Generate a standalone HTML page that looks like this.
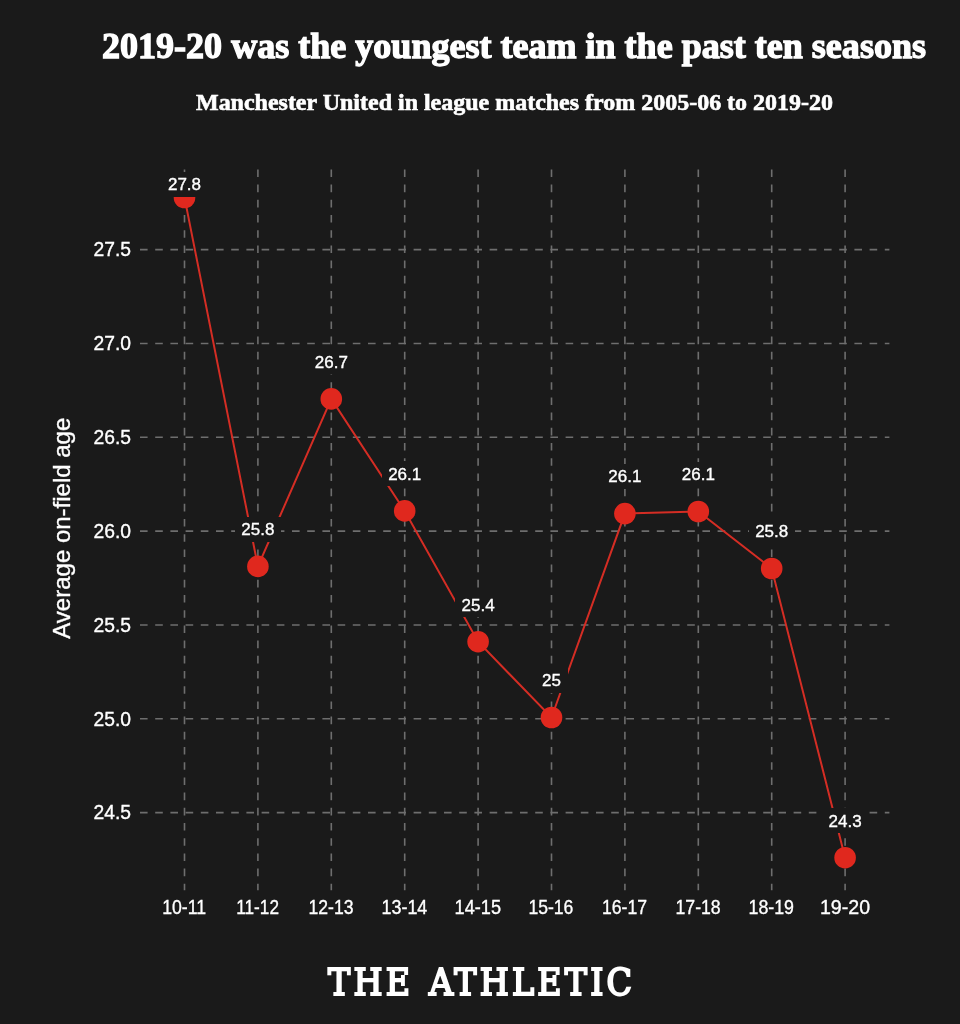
<!DOCTYPE html>
<html><head><meta charset="utf-8"><style>
html,body{margin:0;padding:0;background:#1a1a1a;width:960px;height:1024px;overflow:hidden}
svg{display:block;filter:blur(0.45px)}
text{fill:#fff}
.v,.t,.tx,.yt{stroke:#fff;stroke-width:0.35px}
.v{font:17px "Liberation Sans",sans-serif}
.t{font:19.3px "Liberation Sans",sans-serif}
.tx{font:20px "Liberation Sans",sans-serif}
.yt{font:24px "Liberation Sans",sans-serif}
.h1{font:bold 36.3px "Liberation Serif",serif;stroke:#fff;stroke-width:1.3px}
.h2{font:bold 22.5px "Liberation Serif",serif;stroke:#fff;stroke-width:0.6px}
.logo{font:37px "DejaVu Serif Condensed","DejaVu Serif",serif;stroke:#fff;stroke-width:1.9px;word-spacing:2px}
</style></head><body>
<svg width="960" height="1024" viewBox="0 0 960 1024">
<rect x="0" y="0" width="960" height="1024" fill="#1a1a1a"/>
<g stroke="#6e6e6e" stroke-width="1.6" stroke-dasharray="7.6 7.6" fill="none"><line x1="184.50" y1="169.4" x2="184.50" y2="890.3"/><line x1="257.90" y1="169.4" x2="257.90" y2="890.3"/><line x1="331.30" y1="169.4" x2="331.30" y2="890.3"/><line x1="404.70" y1="169.4" x2="404.70" y2="890.3"/><line x1="478.10" y1="169.4" x2="478.10" y2="890.3"/><line x1="551.50" y1="169.4" x2="551.50" y2="890.3"/><line x1="624.90" y1="169.4" x2="624.90" y2="890.3"/><line x1="698.30" y1="169.4" x2="698.30" y2="890.3"/><line x1="771.70" y1="169.4" x2="771.70" y2="890.3"/><line x1="845.10" y1="169.4" x2="845.10" y2="890.3"/><line x1="140" y1="249.60" x2="889.4" y2="249.60"/><line x1="140" y1="343.44" x2="889.4" y2="343.44"/><line x1="140" y1="437.27" x2="889.4" y2="437.27"/><line x1="140" y1="531.11" x2="889.4" y2="531.11"/><line x1="140" y1="624.94" x2="889.4" y2="624.94"/><line x1="140" y1="718.77" x2="889.4" y2="718.77"/><line x1="140" y1="812.61" x2="889.4" y2="812.61"/></g>
<clipPath id="c"><rect x="0" y="195.6" width="960" height="828.4"/></clipPath>
<g clip-path="url(#c)"><polyline points="184.50,197.50 257.90,566.40 331.30,398.90 404.70,510.90 478.10,641.70 551.50,717.50 624.90,513.60 698.30,511.50 771.70,568.50 845.10,857.70" fill="none" stroke="#d42d24" stroke-width="2"/>
<circle cx="184.50" cy="197.50" r="10.8" fill="#e0281e"/>
<circle cx="257.90" cy="566.40" r="10.8" fill="#e0281e"/>
<circle cx="331.30" cy="398.90" r="10.8" fill="#e0281e"/>
<circle cx="404.70" cy="510.90" r="10.8" fill="#e0281e"/>
<circle cx="478.10" cy="641.70" r="10.8" fill="#e0281e"/>
<circle cx="551.50" cy="717.50" r="10.8" fill="#e0281e"/>
<circle cx="624.90" cy="513.60" r="10.8" fill="#e0281e"/>
<circle cx="698.30" cy="511.50" r="10.8" fill="#e0281e"/>
<circle cx="771.70" cy="568.50" r="10.8" fill="#e0281e"/>
<circle cx="845.10" cy="857.70" r="10.8" fill="#e0281e"/>
</g>
<rect x="162" y="172" width="46" height="25" fill="#1a1a1a"/>
<text x="184.50" y="190.09" text-anchor="middle" class="v">27.8</text>
<rect x="235" y="517" width="46" height="25" fill="#1a1a1a"/>
<text x="257.90" y="535.29" text-anchor="middle" class="v">25.8</text>
<rect x="308" y="349" width="46" height="25" fill="#1a1a1a"/>
<text x="331.30" y="367.79" text-anchor="middle" class="v">26.7</text>
<rect x="382" y="461" width="46" height="25" fill="#1a1a1a"/>
<text x="404.70" y="479.79" text-anchor="middle" class="v">26.1</text>
<rect x="455" y="592" width="46" height="25" fill="#1a1a1a"/>
<text x="478.10" y="610.59" text-anchor="middle" class="v">25.4</text>
<rect x="536" y="668" width="32" height="25" fill="#1a1a1a"/>
<text x="551.50" y="686.39" text-anchor="middle" class="v">25</text>
<rect x="602" y="464" width="46" height="25" fill="#1a1a1a"/>
<text x="624.90" y="482.49" text-anchor="middle" class="v">26.1</text>
<rect x="675" y="462" width="46" height="25" fill="#1a1a1a"/>
<text x="698.30" y="480.39" text-anchor="middle" class="v">26.1</text>
<rect x="749" y="519" width="46" height="25" fill="#1a1a1a"/>
<text x="771.70" y="537.39" text-anchor="middle" class="v">25.8</text>
<rect x="822" y="808" width="46" height="25" fill="#1a1a1a"/>
<text x="845.10" y="826.59" text-anchor="middle" class="v">24.3</text>
<text x="131" y="256.40" text-anchor="end" class="t">27.5</text>
<text x="131" y="350.24" text-anchor="end" class="t">27.0</text>
<text x="131" y="444.07" text-anchor="end" class="t">26.5</text>
<text x="131" y="537.90" text-anchor="end" class="t">26.0</text>
<text x="131" y="631.74" text-anchor="end" class="t">25.5</text>
<text x="131" y="725.57" text-anchor="end" class="t">25.0</text>
<text x="131" y="819.41" text-anchor="end" class="t">24.5</text>
<text transform="translate(184.1 913.8) scale(0.885 1)" text-anchor="middle" class="tx">10-11</text>
<text transform="translate(257.6 913.8) scale(0.86 1)" text-anchor="middle" class="tx">11-12</text>
<text transform="translate(331.0 913.8) scale(0.88 1)" text-anchor="middle" class="tx">12-13</text>
<text transform="translate(404.4 913.8) scale(0.897 1)" text-anchor="middle" class="tx">13-14</text>
<text transform="translate(477.8 913.8) scale(0.909 1)" text-anchor="middle" class="tx">14-15</text>
<text transform="translate(550.9 913.8) scale(0.88 1)" text-anchor="middle" class="tx">15-16</text>
<text transform="translate(624.5 913.8) scale(0.88 1)" text-anchor="middle" class="tx">16-17</text>
<text transform="translate(698.1 913.8) scale(0.884 1)" text-anchor="middle" class="tx">17-18</text>
<text transform="translate(771.25 913.8) scale(0.89 1)" text-anchor="middle" class="tx">18-19</text>
<text transform="translate(845.0 913.8) scale(0.98 1)" text-anchor="middle" class="tx">19-20</text>
<text transform="translate(69.8 528.2) rotate(-90)" text-anchor="middle" class="yt">Average on-field age</text>
<text x="102" y="58.1" textLength="824" lengthAdjust="spacingAndGlyphs" class="h1">2019-20 was the youngest team in the past ten seasons</text>
<text x="196" y="109.8" textLength="637" lengthAdjust="spacingAndGlyphs" class="h2">Manchester United in league matches from 2005-06 to 2019-20</text>
<text x="328" y="995.2" textLength="304" lengthAdjust="spacing" class="logo">THE ATHLETIC</text>
</svg>
</body></html>
